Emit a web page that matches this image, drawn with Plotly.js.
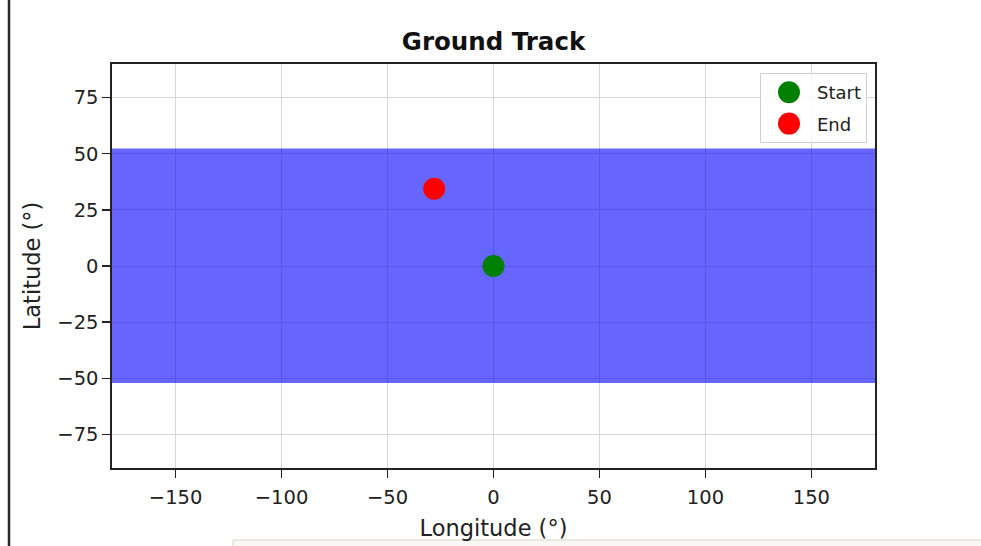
<!DOCTYPE html>
<html>
<head>
<meta charset="utf-8">
<script src="https://cdn.plot.ly/plotly-3.0.1.min.js"></script>
<style>
  html, body { margin: 0; padding: 0; background: #ffffff; }
  #chart { width: 981px; height: 546px; }
</style>
</head>
<body>
<div id="chart"></div>
<script>
// Ground-track coverage band (dense orbit lines merged into one filled band)
const bandLon = [-180, 180, 180, -180, -180];
const bandLat = [52.4, 52.4, -52.1, -52.1, 52.4];

// Start / end points of the track
const startLon = [0];
const startLat = [0];
const endLon = [-28];
const endLat = [34.4];

const xTicks = [-150, -100, -50, 0, 50, 100, 150];
const yTicks = [-75, -50, -25, 0, 25, 50, 75];

const FONT = 'DejaVu Sans, Liberation Sans, sans-serif';

const traces = [
  {
    x: bandLon, y: bandLat, type: 'scatter', mode: 'lines',
    fill: 'toself', fillcolor: 'rgba(0,0,255,0.6)',
    line: { width: 0, color: 'rgba(0,0,255,0.6)' },
    showlegend: false, hoverinfo: 'skip'
  },
  {
    x: startLon, y: startLat, type: 'scatter', mode: 'markers', name: 'Start',
    legendgroup: 'g1',
    marker: { color: 'green', size: 22 }
  },
  {
    x: endLon, y: endLat, type: 'scatter', mode: 'markers', name: 'End',
    legendgroup: 'g2',
    marker: { color: 'red', size: 22 }
  }
];

const axisCommon = {
  showline: true, linecolor: '#222', linewidth: 1.6, mirror: true,
  ticks: 'outside', ticklen: 8, tickwidth: 1.3, tickcolor: '#222',
  showgrid: true, gridcolor: '#d6d6d6', gridwidth: 1,
  zeroline: false, tickfont: { family: FONT, size: 19.5, color: '#222' }
};

const layout = {
  width: 981, height: 546,
  margin: { l: 112, r: 106, t: 64, b: 78 },
  paper_bgcolor: '#ffffff', plot_bgcolor: '#ffffff',
  font: { family: FONT, color: '#222' },
  title: {
    text: '<b>Ground Track</b>',
    font: { family: FONT, size: 24.5, color: '#111' },
    x: 0.5, xref: 'paper', xanchor: 'center',
    y: 1 - 41.5 / 546, yref: 'container', yanchor: 'middle'
  },
  xaxis: Object.assign({}, axisCommon, {
    range: [-180, 180], tickvals: xTicks, ticklabelstandoff: 3,
    title: { text: 'Longitude (°)', font: { family: FONT, size: 22.5, color: '#222' }, standoff: 12 }
  }),
  yaxis: Object.assign({}, axisCommon, {
    range: [-90, 90], tickvals: yTicks,
    title: { text: 'Latitude (°)', font: { family: FONT, size: 22.5, color: '#222' }, standoff: 10 }
  }),
  showlegend: true,
  legend: {
    x: (867 - 112) / 763, xanchor: 'right', xref: 'paper',
    y: (468 - 73) / 404, yanchor: 'top', yref: 'paper',
    traceorder: 'grouped', tracegroupgap: 5, itemwidth: 46,
    bgcolor: 'rgba(255,255,255,0.85)', bordercolor: '#d0d0d0', borderwidth: 1,
    font: { family: FONT, size: 18, color: '#222' }
  },
  shapes: [
    { type: 'line', xref: 'paper', yref: 'paper',
      x0: (9 - 112) / 763, x1: (9 - 112) / 763, y0: 468 / 404, y1: (468 - 546) / 404,
      line: { color: '#2a2a2a', width: 2.5 } },
    { type: 'rect', xref: 'paper', yref: 'paper',
      x0: (233 - 112) / 763, x1: (990 - 112) / 763, y0: (468 - 540) / 404, y1: (468 - 552) / 404,
      fillcolor: '#faf8f4', line: { color: '#d8d4cc', width: 1 } }
  ]
};

Plotly.newPlot('chart', traces, layout, { displayModeBar: false, staticPlot: true }).then(function (gd) {
  // Plotly caps legend marker size at 16px; enlarge legend symbols to match the plotted markers.
  var r = 11;
  var d = 'M' + r + ',0A' + r + ',' + r + ' 0 1,1 0,-' + r + 'A' + r + ',' + r + ' 0 0,1 ' + r + ',0Z';
  gd.querySelectorAll('.legend .legendpoints path.scatterpts').forEach(function (p) {
    p.setAttribute('d', d);
  });
});
</script>
</body>
</html>
